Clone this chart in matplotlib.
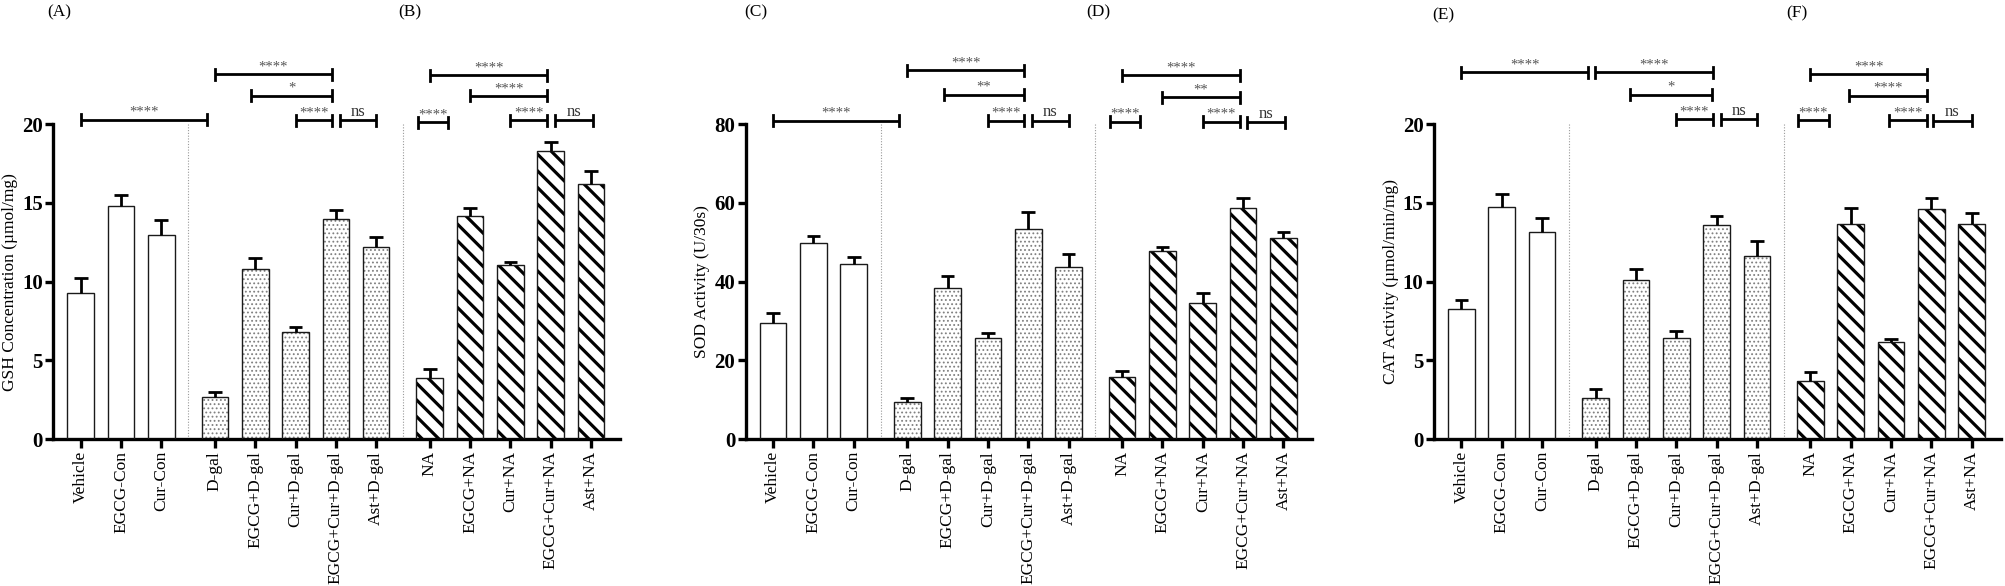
import numpy as np
import matplotlib
matplotlib.use("Agg")
import matplotlib.pyplot as plt

# ---------------- data ----------------
categories = ["Vehicle", "EGCG-Con", "Cur-Con",
              "D-gal", "EGCG+D-gal", "Cur+D-gal", "EGCG+Cur+D-gal", "Ast+D-gal",
              "NA", "EGCG+NA", "Cur+NA", "EGCG+Cur+NA", "Ast+NA"]
group_sizes = [3, 5, 5]

gsh_mean = [9.30, 14.77, 12.97, 2.68, 10.81, 6.82, 13.98, 12.18, 3.90, 14.17, 11.03, 18.31, 16.20]
gsh_sem = [0.90, 0.75, 0.95, 0.35, 0.66, 0.30, 0.58, 0.64, 0.57, 0.52, 0.21, 0.53, 0.80]

sod_mean = [29.5, 49.8, 44.6, 9.4, 38.4, 25.6, 53.4, 43.8, 15.7, 47.8, 34.7, 58.6, 51.2]
sod_sem = [2.5, 1.7, 1.7, 1.1, 3.1, 1.4, 4.2, 3.3, 1.6, 1.1, 2.5, 2.7, 1.3]

cat_mean = [8.27, 14.75, 13.18, 2.64, 10.12, 6.42, 13.59, 11.65, 3.72, 13.65, 6.15, 14.60, 13.63]
cat_sem = [0.57, 0.81, 0.86, 0.53, 0.68, 0.45, 0.57, 0.94, 0.53, 1.05, 0.22, 0.69, 0.71]

# significance brackets: (bar i, bar j, label, height in data units, left shift, right shift)
gsh_sig = [(0, 3, "****", 20.28, 0.0, -0.2),
           (3, 6, "****", 23.15, 0.0, -0.1),
           (4, 6, "*", 21.80, -0.1, -0.1),
           (5, 6, "****", 20.24, 0.0, -0.1),
           (6, 7, "ns", 20.24, 0.1, 0.0),
           (8, 8, "****", 20.10, -0.3, 0.45),
           (8, 11, "****", 23.10, 0.0, -0.08),
           (9, 11, "****", 21.78, 0.0, -0.08),
           (10, 11, "****", 20.24, 0.0, -0.08),
           (11, 12, "ns", 20.24, 0.1, 0.05)]

sod_sig = [(0, 3, "****", 80.8, 0.0, -0.2),
           (3, 6, "****", 93.7, 0.0, -0.1),
           (4, 6, "**", 87.4, -0.1, -0.1),
           (5, 6, "****", 80.8, 0.0, -0.1),
           (6, 7, "ns", 80.8, 0.1, 0.0),
           (8, 8, "****", 80.6, -0.3, 0.45),
           (8, 11, "****", 92.4, 0.0, -0.08),
           (9, 11, "**", 86.8, 0.0, -0.08),
           (10, 11, "****", 80.6, 0.0, -0.08),
           (11, 12, "ns", 80.4, 0.1, 0.05)]

cat_sig = [(0, 3, "****", 23.27, 0.0, -0.18),
           (3, 6, "****", 23.27, -0.02, -0.1),
           (4, 6, "*", 21.86, -0.15, -0.12),
           (5, 6, "****", 20.30, 0.0, -0.1),
           (6, 7, "ns", 20.30, 0.1, 0.0),
           (8, 8, "****", 20.25, -0.3, 0.45),
           (8, 11, "****", 23.17, 0.0, -0.1),
           (9, 11, "****", 21.79, -0.05, -0.1),
           (10, 11, "****", 20.25, -0.05, -0.1),
           (11, 12, "ns", 20.20, 0.05, 0.0)]

panels = [
    dict(mean=gsh_mean, sem=gsh_sem, sig=gsh_sig, ymax=20, yticks=[0, 5, 10, 15, 20],
         ylabel="GSH Concentration (\u00b5mol/mg)", left=53.3, labels=("(A)", "(B)")),
    dict(mean=sod_mean, sem=sod_sem, sig=sod_sig, ymax=80, yticks=[0, 20, 40, 60, 80],
         ylabel="SOD Activity (U/30s)", left=745.7, labels=("(C)", "(D)")),
    dict(mean=cat_mean, sem=cat_sem, sig=cat_sig, ymax=20, yticks=[0, 5, 10, 15, 20],
         ylabel="CAT Activity (\u00b5mol/min/mg)", left=1434.0, labels=("(E)", "(F)")),
]
label_px = [[(59, 12), (410, 12)], [(756, 12), (1098, 12)], [(1443, 15), (1797, 13)]]

# ---------------- style / layout ----------------
W, H = 2005, 586
plt.rcParams["font.family"] = ["Liberation Serif", "DejaVu Serif"]
fig = plt.figure(figsize=(W / 100, H / 100), dpi=100)

GAP = 0.33
BW = 0.66
CAP = 0.17
XMIN, XMAX = -0.68, 13.38
AX_W = 566.7
Y0_PX, YTOP_PX = 439.3, 124.0

pos = []
x = 0.0
for n in group_sizes:
    for _ in range(n):
        pos.append(x)
        x += 1
    x += GAP
pos = np.array(pos)
groups = []
start = 0
for n in group_sizes:
    groups.append(np.arange(start, start + n))
    start += n

group_styles = [dict(hatch=None, hc="black", hlw=1.0),
                dict(hatch="....", hc="#808080", hlw=0.8),
                dict(hatch="\\\\", hc="black", hlw=2.3)]

for p, lp in zip(panels, label_px):
    ax = fig.add_axes([p["left"] / W, (H - Y0_PX) / H, AX_W / W, (Y0_PX - YTOP_PX) / H])
    mean = np.array(p["mean"])
    sem = np.array(p["sem"])
    ymax = p["ymax"]
    ax.set_xlim(XMIN, XMAX)
    ax.set_ylim(0, ymax)

    for idx, st in zip(groups, group_styles):
        with plt.rc_context({"hatch.linewidth": st["hlw"]}):
            bars = ax.bar(pos[idx], mean[idx], width=BW, color="white",
                          edgecolor=st["hc"], linewidth=0, hatch=st["hatch"], zorder=2)
            for b in bars:
                if hasattr(b, "set_hatch_linewidth"):
                    b.set_hatch_linewidth(st["hlw"])
        ax.bar(pos[idx], mean[idx], width=BW, fill=False, edgecolor="#1a1a1a",
               linewidth=1.0, zorder=3)

    # error bars (upper only)
    ax.vlines(pos, mean, mean + sem, colors="black", linewidth=2.0, zorder=4)
    ax.hlines(mean + sem, pos - CAP, pos + CAP, colors="black", linewidth=2.0, zorder=4)

    # group dividers
    dv = [(pos[groups[0][-1]] + pos[groups[1][0]]) / 2, (pos[groups[1][-1]] + pos[groups[2][0]]) / 2]
    ax.vlines(dv, 0, ymax, colors="#9a9a9a", linestyles=(0, (1, 1.5)), linewidth=0.8, zorder=1)

    # significance brackets
    px_per_unit = (Y0_PX - YTOP_PX) / ymax
    t = 5.5 / px_per_unit
    for (i, j, lab, lvl, dl, dr) in p["sig"]:
        x1 = pos[i] + dl
        x2 = pos[j] + dr
        lw = 2.0
        ax.plot([x1, x2], [lvl, lvl], color="black", lw=lw, clip_on=False, zorder=5,
                solid_capstyle="butt")
        ax.plot([x1, x1], [lvl - t, lvl + t], color="black", lw=lw, clip_on=False, zorder=5)
        ax.plot([x2, x2], [lvl - t, lvl + t], color="black", lw=lw, clip_on=False, zorder=5)
        if lab == "ns":
            ax.annotate(lab, xy=((x1 + x2) / 2, lvl), xytext=(0, 3.2), textcoords="offset points",
                        ha="center", va="baseline", fontsize=12, color="#333333",
                        annotation_clip=False)
        else:
            ax.annotate(lab, xy=((x1 + x2) / 2, lvl), xytext=(0, 2.8), textcoords="offset points",
                        ha="center", va="baseline", fontsize=10.5, color="#555555",
                        annotation_clip=False)

    # axes styling
    for s in ["top", "right"]:
        ax.spines[s].set_visible(False)
    for s in ["left", "bottom"]:
        ax.spines[s].set_linewidth(2.4)
    ax.set_xticks(pos)
    ax.set_xticklabels(categories, rotation=90, fontsize=12.5)
    ax.set_yticks(p["yticks"])
    ax.set_yticklabels([str(v) for v in p["yticks"]], fontsize=15, fontweight="bold")
    ax.tick_params(axis="x", length=6.5, width=2.4, pad=2)
    ax.tick_params(axis="y", length=6, width=2.4, pad=1.5)
    ax.set_ylabel(p["ylabel"], fontsize=12.5, labelpad=3)

    for (lx, ly), txt in zip(lp, p["labels"]):
        fig.text(lx / W, 1 - ly / H, txt, ha="center", va="center", fontsize=12.5)

fig.savefig("out.png", dpi=100)
